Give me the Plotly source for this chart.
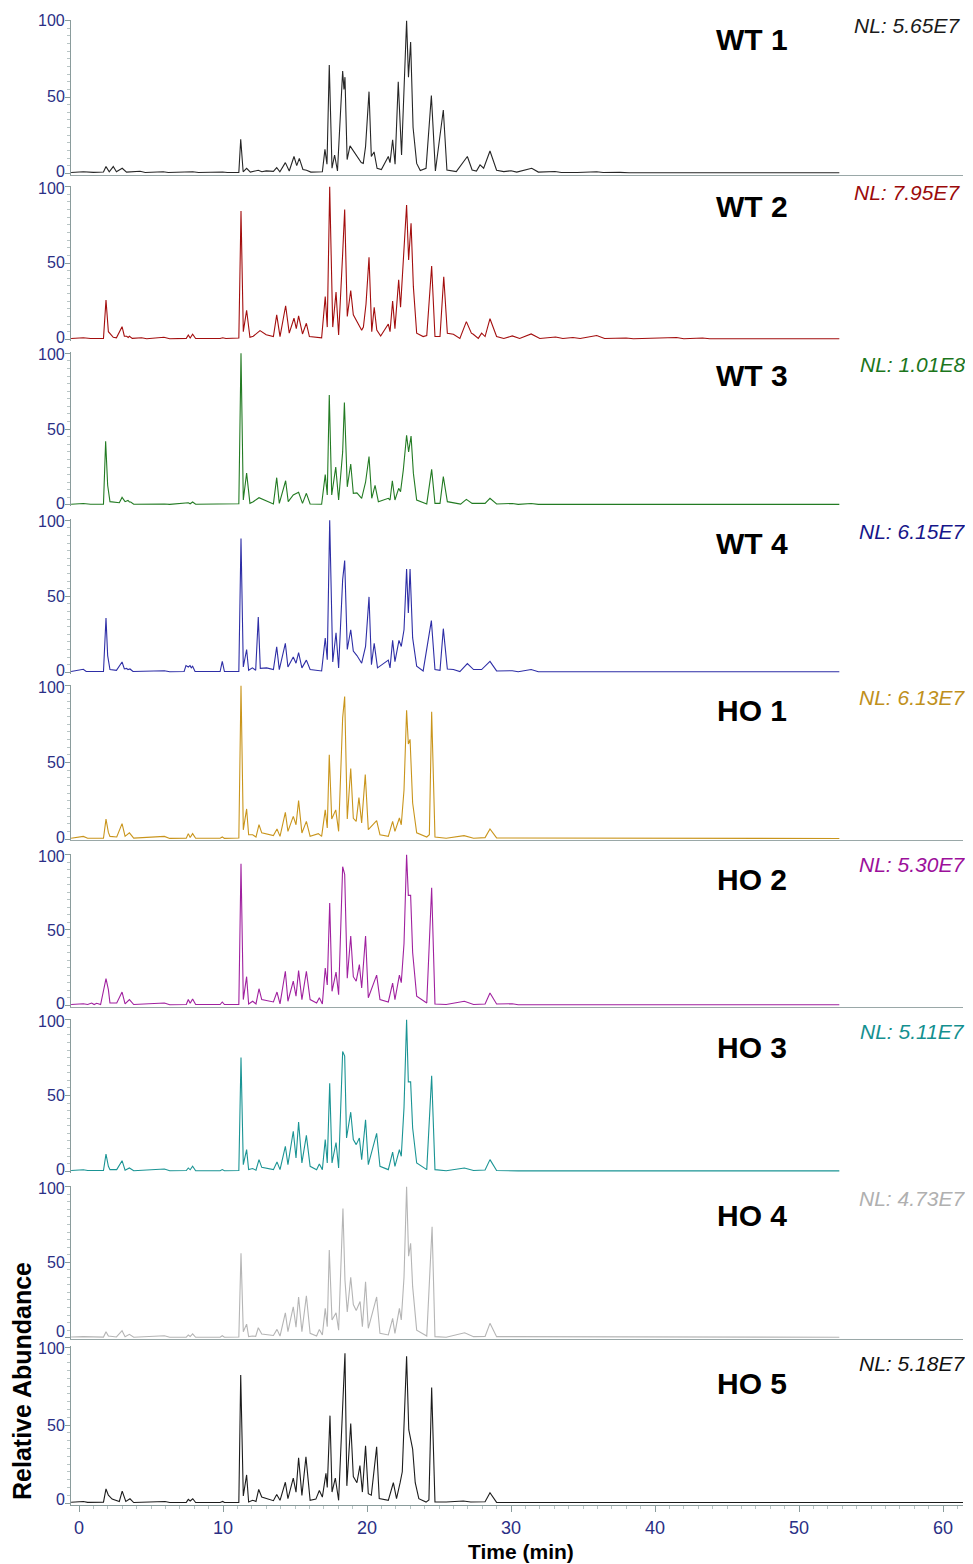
import plotly.graph_objects as go

# ---------------- data: (retention time [min], relative abundance [%]) ----------------
WT1 = [(-0.55,0.5),(0.3,1),(1.0,0.6),(1.7,0.8),(1.875,4.4),(2.1,1),(2.38,4.4),(2.6,1),(3.0,3.3),(3.3,0.8),
       (4.24,1.3),(4.6,0.5),(5.85,1),(6.2,0.5),(7.9,1),(8.3,0.5),(9.98,0.8),(10.3,0.5),(11.1,0.6),(11.23,22.3),
       (11.4,1),(11.64,3.3),(11.9,0.8),(12.45,2),(12.7,1),(13.0,1.6),(13.5,1.3),(13.73,3.7),(13.95,1),(14.33,7),
       (14.6,1.5),(14.93,11),(15.12,5),(15.3,9.8),(15.55,2.5),(15.8,2),(16.1,0.8),(16.9,1),(17.08,15.7),(17.22,6),
       (17.38,71),(17.57,3.3),(17.75,12),(17.95,1.5),(18.31,67),(18.4,55),(18.47,63),(18.62,9),(18.82,18),(19.2,13),
       (19.6,7),(19.74,6.5),(19.9,17.5),(20.14,53.5),(20.3,11),(20.49,14),(20.7,3.3),(21.0,2.5),(21.48,11),(21.6,7),
       (21.78,22),(21.95,6),(22.17,60),(22.4,12),(22.57,50),(22.75,100),(22.88,63),(23.03,86),(23.2,30),(23.45,6.5),
       (23.7,1.8),(24.1,3.3),(24.47,51),(24.75,1.5),(25.3,41.5),(25.55,2.2),(26.2,1.1),(26.97,11),(27.3,2.2),(27.6,1.5),
       (27.85,5.5),(28.1,3.3),(28.54,14.6),(29.0,2),(29.5,1.1),(30.0,1.7),(30.4,0.8),(31.44,3.3),(31.9,0.8),(33.05,1.2),
       (33.5,0.5),(34.2,0.8),(34.6,0.5),(35.95,1),(36.4,0.5),(37.57,0.6),(38.2,0.4),(52.8,0.4)]

WT2 = [(-0.55,0.5),(0.3,1),(0.8,0.5),(1.7,0.6),(1.875,25.8),(2.04,5),(2.38,1.3),(2.6,1),(2.99,8.3),(3.15,2),
       (3.31,2),(3.42,1.2),(3.5,2),(3.7,0.6),(4.35,1),(4.7,0.4),(5.9,1.3),(6.3,0.4),(7.45,0.6),(7.59,2.8),
       (7.72,0.8),(7.89,3.3),(8.1,0.5),(9.8,0.5),(9.98,1),(10.2,0.5),(11.1,0.8),(11.25,84),(11.41,5),(11.64,19),
       (11.87,1.3),(12.1,2),(12.57,5.7),(13.0,3),(13.5,1.8),(13.73,16),(13.96,1.8),(14.35,22),(14.6,4),(14.93,13.8),
       (15.09,7),(15.25,15.3),(15.52,3.5),(15.79,10.5),(16.0,1.8),(16.85,1),(17.1,28),(17.24,8),(17.41,100),(17.62,8),
       (17.85,31),(18.03,2.8),(18.31,56),(18.45,85),(18.63,15),(18.87,32),(19.05,16),(19.3,12),(19.63,6),(19.75,8),
       (19.93,23),(20.14,53.7),(20.33,5),(20.5,21),(20.68,6),(20.95,2.2),(21.48,10),(21.6,5),(21.78,25),(21.94,7),
       (22.2,39),(22.33,21),(22.52,50),(22.75,88),(22.89,52),(23.06,76),(23.22,34.5),(23.45,4),(23.9,1.8),(24.15,2.5),
       (24.49,48),(24.72,1.8),(25.07,1.8),(25.33,41),(25.58,4),(26.0,3.3),(26.45,0.6),(26.9,11.6),(27.25,4),(27.38,3.3),
       (27.73,0.6),(27.96,4),(28.2,1.8),(28.54,13.5),(29.0,1.8),(29.5,0.5),(30.09,2.2),(30.6,0.5),(31.4,3.5),(32.0,0.5),
       (33.1,1.5),(33.6,0.5),(34.3,1.2),(34.8,0.5),(35.95,2.5),(36.5,0.5),(38.0,0.8),(38.5,0.4),(41.5,1.2),(42.0,0.4),
       (43.3,0.8),(43.8,0.4),(52.8,0.4)]

WT3 = [(-0.55,0.5),(0.3,1),(0.8,0.5),(1.7,0.6),(1.85,42),(1.99,13),(2.15,2.2),(2.62,2),(2.8,1.5),(2.99,5),
       (3.2,2.2),(3.4,3),(3.5,2),(3.59,2),(3.8,0.5),(5.93,0.7),(6.3,0.4),(7.59,1.5),(7.72,0.8),(7.89,2),
       (8.1,0.5),(11.1,0.8),(11.25,100),(11.41,3.3),(11.64,21),(11.87,1.1),(12.1,2.2),(12.5,4.8),(13.0,2.5),(13.5,0.7),
       (13.73,18),(13.91,1.1),(14.35,16),(14.53,2.2),(14.88,6.6),(15.07,7.7),(15.25,8.4),(15.52,1.1),(15.79,7.7),(16.05,0.7),
       (16.85,0.5),(17.1,20),(17.24,6.6),(17.38,72.5),(17.55,6.6),(17.83,25),(18.03,3.3),(18.31,35),(18.43,67.5),(18.63,12),
       (18.87,27),(19.05,7.7),(19.3,8),(19.63,4.4),(19.9,15),(20.14,32),(20.33,4.4),(20.56,13),(20.79,2.2),(21.48,4.4),
       (21.6,3.3),(21.76,16),(21.94,3.3),(22.2,11),(22.33,8.8),(22.52,23),(22.75,46),(22.89,35),(23.06,45.5),(23.22,21),
       (23.45,3.3),(24.15,0.7),(24.49,23.5),(24.72,1.1),(25.07,1.1),(25.3,18.7),(25.58,2.2),(26.5,0.6),(26.9,3.7),(27.3,1.1),
       (28.2,1.1),(28.54,4.4),(29.0,0.7),(30.09,1),(30.5,0.4),(31.4,1),(31.9,0.4),(52.8,0.4)]

WT4 = [(-0.55,0.5),(0.3,2),(0.5,0.5),(1.7,0.5),(1.875,35.7),(1.99,11),(2.15,1.8),(2.6,1.3),(2.99,6.8),(3.15,2.2),
       (3.31,2.6),(3.4,1.8),(3.54,2.2),(3.75,0.5),(5.93,1),(6.3,0.4),(7.3,0.5),(7.43,4.4),(7.59,3.5),(7.71,4.4),
       (7.8,3),(7.89,4),(8.06,0.5),(9.8,0.5),(9.95,7.2),(10.1,0.5),(11.1,0.5),(11.25,88),(11.41,3.5),(11.64,15),
       (11.78,1.3),(12.04,2.9),(12.27,1.3),(12.45,36.4),(12.59,2.6),(13.03,2.9),(13.5,1.8),(13.73,16.7),(13.91,1.8),(14.33,19),
       (14.51,3.5),(14.88,10),(15.07,6),(15.25,13),(15.48,2.9),(15.79,8),(16.05,1.8),(16.85,0.9),(17.1,22.6),(17.24,8.3),
       (17.41,100),(17.62,6.8),(17.85,26),(18.03,2.9),(18.31,61),(18.45,73.5),(18.63,15),(18.87,28),(19.05,14),(19.3,11),
       (19.63,6),(19.9,17),(20.14,49.6),(20.31,5),(20.5,19),(20.73,2.9),(21.48,8),(21.6,2.9),(21.78,21),(21.94,7),
       (22.22,21),(22.38,17),(22.57,28),(22.75,68),(22.87,39),(22.99,68),(23.17,22.6),(23.45,4),(23.9,0.9),(24.47,34),
       (24.72,1.8),(25.07,1.3),(25.3,28.7),(25.58,2.2),(26.0,1.8),(26.45,0.5),(26.97,5.7),(27.4,1.8),(27.96,1.8),(28.54,7.2),
       (29.0,0.9),(30.09,1),(30.5,0.4),(31.4,1.8),(31.9,0.4),(52.8,0.4)]

HO1 = [(-0.55,0.5),(0.3,1.7),(0.6,0.5),(1.7,0.5),(1.875,13),(2.04,4.3),(2.15,1.7),(2.62,1.3),(2.99,10),(3.2,1.7),
       (3.5,4),(3.8,0.6),(5.93,1.7),(6.3,0.4),(7.45,0.5),(7.59,3.5),(7.72,1),(7.89,3.5),(8.1,0.5),(9.8,0.5),
       (9.95,1.3),(10.1,0.4),(11.1,0.6),(11.25,100),(11.41,6),(11.64,19.6),(11.78,2.8),(12.06,2.8),(12.29,1.3),(12.5,9.3),
       (12.69,4),(13.5,2.2),(13.75,6.5),(13.96,1.7),(14.33,17.4),(14.51,5),(14.88,14.8),(15.07,9.3),(15.25,25),(15.48,3.9),
       (15.79,11.5),(16.05,1.7),(16.62,3.5),(16.85,1.7),(17.1,19),(17.24,7.2),(17.38,55),(17.55,13),(17.83,19),(18.03,5),
       (18.31,79),(18.45,93),(18.63,13),(18.87,46),(19.05,13.5),(19.25,11.5),(19.44,27),(19.63,10.5),(19.88,42),(20.09,6.1),
       (20.67,12),(20.9,2.8),(21.48,1.7),(21.78,11.5),(21.94,5),(22.25,13.7),(22.38,9.3),(22.57,32),(22.75,84),(22.87,62),
       (22.99,65),(23.17,23.5),(23.45,4),(24.15,1.3),(24.33,2.8),(24.49,83),(24.72,1.3),(25.5,0.5),(26.74,2.2),(27.4,0.5),
       (28.2,0.9),(28.54,6.5),(29.0,0.7),(30.09,0.7),(30.5,0.3),(52.8,0.3)]

HO2 = [(-0.55,0.5),(0.3,1),(0.6,0.5),(0.88,1.5),(1.05,0.5),(1.23,1.3),(1.5,0.5),(1.875,17.7),(2.04,10.4),(2.15,1.5),
       (2.62,1.5),(2.99,8.8),(3.2,0.9),(3.5,3.8),(3.8,0.5),(5.93,1.5),(6.3,0.4),(7.45,0.5),(7.59,3.8),(7.72,1.3),
       (7.89,4.2),(8.1,0.5),(9.8,0.5),(9.95,2.2),(10.1,0.5),(11.1,0.5),(11.25,94),(11.41,3.8),(11.64,19),(11.78,0.9),
       (12.06,2.7),(12.29,0.9),(12.5,11),(12.69,3.8),(13.5,2.2),(13.75,8.8),(13.96,0.9),(14.33,22.6),(14.51,2.7),(14.88,16),
       (15.07,6),(15.25,23),(15.48,3.8),(15.79,22.6),(16.05,3.8),(16.5,1.5),(16.69,5),(16.9,0.9),(17.1,24.8),(17.24,13.5),
       (17.41,68),(17.57,9.3),(17.85,22),(18.03,7),(18.31,92),(18.45,87),(18.63,18),(18.87,46),(19.05,19),(19.25,16),
       (19.47,27),(19.63,11.5),(19.9,46),(20.09,5),(20.67,20),(20.9,3.8),(21.48,2.2),(21.78,14.8),(21.94,3.8),(22.25,20),
       (22.38,15),(22.57,41),(22.75,100),(22.87,73),(23.03,73),(23.17,35),(23.45,6),(24.15,1.5),(24.49,78),(24.72,0.9),
       (25.5,0.5),(26.76,2.7),(27.4,0.5),(28.2,0.9),(28.54,8.2),(29.0,0.9),(30.09,1),(30.5,0.4),(52.8,0.4)]

HO3 = [(-0.55,0.5),(0.3,1),(0.6,0.5),(1.7,0.5),(1.875,11.4),(2.04,3.3),(2.15,1.1),(2.62,1.1),(2.99,7),(3.2,0.7),
       (3.5,2.2),(3.8,0.4),(5.93,1.5),(6.3,0.4),(7.45,0.5),(7.59,2.2),(7.72,1),(7.89,3.3),(8.1,0.4),(9.8,0.4),
       (9.95,1.1),(10.1,0.4),(11.1,0.5),(11.25,75),(11.41,4.4),(11.64,14.3),(11.78,1.1),(12.06,1.8),(12.29,0.7),(12.5,7.7),
       (12.69,2.6),(13.5,1.1),(13.75,6.2),(13.96,1.1),(14.33,16.5),(14.51,4.4),(14.88,26.4),(15.07,8.8),(15.25,32.5),(15.48,5.5),
       (15.79,23.7),(16.05,3.3),(16.5,1.1),(16.69,4.8),(16.9,1.1),(17.1,21),(17.24,5.5),(17.41,58),(17.57,5.5),(17.85,19),
       (18.03,2.2),(18.31,79),(18.45,76),(18.58,22),(18.87,39),(19.05,21),(19.25,17.6),(19.47,22),(19.63,7.7),(19.9,34),
       (20.09,4.4),(20.67,25),(20.9,3.3),(21.48,1.1),(21.78,12.7),(21.94,3.3),(22.25,14.3),(22.38,9.9),(22.57,42),(22.75,100),
       (22.87,59),(23.03,59),(23.17,28.6),(23.45,5.5),(24.15,1.1),(24.49,63),(24.72,1.1),(25.5,0.4),(26.76,2.2),(27.4,0.5),
       (28.2,0.9),(28.54,7.7),(29.0,0.5),(30.09,0.7),(30.5,0.3),(52.8,0.3)]

HO4 = [(-0.55,0.5),(0.3,0.7),(1.7,0.4),(1.875,4),(2.04,1.1),(2.6,0.5),(2.99,4.6),(3.2,0.7),(3.5,2.2),(3.8,0.3),
       (5.93,1.3),(6.3,0.3),(7.45,0.4),(7.59,1.8),(7.72,0.8),(7.89,2.6),(8.1,0.3),(9.8,0.3),(9.95,1.3),(10.1,0.3),
       (11.1,0.5),(11.25,56),(11.41,4),(11.64,9),(11.78,0.7),(12.06,1.1),(12.27,0.9),(12.45,6.6),(12.69,2.4),(13.5,1.5),
       (13.75,5.5),(13.96,1.1),(14.33,16.5),(14.51,4),(14.88,20.5),(15.07,7),(15.25,27),(15.48,4),(15.79,27.8),(16.05,2.9),
       (16.5,1.1),(16.69,5.5),(16.9,1.8),(17.1,19.4),(17.24,7.3),(17.38,58),(17.57,11.7),(17.85,16.5),(18.03,5),(18.33,85.6),
       (18.47,38),(18.63,17),(18.87,40),(19.05,22),(19.25,18),(19.52,24),(19.68,7.3),(19.9,37),(20.09,6.2),(20.67,27),
       (20.9,2.9),(21.48,1.8),(21.78,12.8),(21.94,2.9),(22.25,19.4),(22.38,11.7),(22.57,40),(22.75,100),(22.89,54),(23.03,62.5),
       (23.17,33.8),(23.45,5),(24.15,1.1),(24.52,73.5),(24.72,0.7),(25.5,0.3),(26.78,3.3),(27.4,0.7),(28.2,0.9),(28.54,9.5),
       (29.0,0.7),(30.09,0.7),(30.5,0.3),(52.8,0.3)]

HO5 = [(-0.55,0.5),(0.3,1),(0.6,0.4),(1.23,0.6),(1.7,0.5),(1.875,9),(2.04,5),(2.3,2.5),(2.66,1.7),(2.8,1),
       (3.0,7.6),(3.25,1),(3.54,2.7),(3.8,0.3),(5.97,1),(6.3,0.3),(7.45,0.4),(7.59,2.3),(7.72,1.3),(7.9,2.7),
       (8.1,0.3),(9.8,0.3),(9.98,1),(10.1,0.3),(11.1,0.4),(11.23,82),(11.41,4.5),(11.64,18),(11.78,0.6),(12.06,1.7),
       (12.29,1),(12.48,8.7),(12.69,3.8),(13.5,1.5),(13.73,5.5),(13.96,1.7),(14.33,13.3),(14.51,2.8),(14.88,16),(15.07,7),
       (15.25,29),(15.48,4.8),(15.76,29.6),(16.05,1.7),(16.45,2.5),(16.69,8),(16.9,3.8),(17.15,19),(17.24,10),(17.43,56),
       (17.57,7),(17.8,16),(18.03,1.7),(18.31,68),(18.47,96),(18.6,11),(18.87,51),(19.05,17),(19.3,13),(19.51,24),
       (19.68,7),(19.9,36.6),(20.09,6),(20.3,5),(20.67,36),(20.85,2.8),(21.48,1.7),(21.83,13),(22.05,2.8),(22.3,13),
       (22.45,20),(22.75,94),(22.9,47),(23.17,34.5),(23.35,13),(23.6,2.8),(24.1,0.6),(24.3,2),(24.49,74),(24.72,0.6),
       (25.5,0.6),(26.69,1.3),(27.2,0.6),(28.2,0.8),(28.54,6.6),(29.0,0.4),(30.05,0.6),(30.5,0.3),(61.4,0.3)]

SAMPLE_NAMES = ["WT 1", "WT 2", "WT 3", "WT 4", "HO 1", "HO 2", "HO 3", "HO 4", "HO 5"]
SAMPLE_DATA = [WT1, WT2, WT3, WT4, HO1, HO2, HO3, HO4, HO5]
NL_LABELS = ["NL: 5.65E7", "NL: 7.95E7", "NL: 1.01E8", "NL: 6.15E7", "NL: 6.13E7",
             "NL: 5.30E7", "NL: 5.11E7", "NL: 4.73E7", "NL: 5.18E7"]
X_TICKS = [0, 10, 20, 30, 40, 50, 60]
Y_TICKS = [0, 50, 100]

# ---------------- styling / layout ----------------
PAGE_W, PAGE_H = 973, 1564
OFF = 8                     # default page margin of the html body
W, H = PAGE_W - OFF, PAGE_H - OFF
FONT = "Liberation Sans, Arial, Helvetica, sans-serif"
TRACE_COLORS = ["#262626", "#a30e0e", "#237b23", "#2e2ea6", "#c9951c",
                "#a0219f", "#1a9494", "#b5b5b5", "#1c1c1c"]
NL_COLORS = ["#1a1a1a", "#9b0a0a", "#1c761c", "#16168a", "#c0901c",
             "#9c109b", "#149090", "#b0b0b0", "#111111"]
NL_RIGHT = [962, 962, 967, 967, 967, 967, 967, 967, 967]
# page-pixel rows of value 100 and value 0 in each panel
PANEL_PX = [(20.7, 173.3), (186.7, 339.3), (353.3, 505.0), (520.3, 672.3), (685.7, 839.0),
            (854.7, 1005.3), (1019.7, 1171.3), (1186.7, 1337.7), (1347.0, 1503.0)]
# small vertical nudges (px) of the "100" / "0" tick labels, as in the instrument print-out
LABEL100_SHIFT = [0, 1.5, 1.5, 1.5, 1.5, 1.5, 1.5, 1.5, 1.5]
LABEL0_SHIFT = [-1.5, -1.5, -1.5, -1.5, -1.5, -1.5, -1.5, -6.0, -4.0]
FULL_AXIS_LINE = [True, False, False, False, True, True, False, True, True]
NAME_Y = [39, 207, 375, 543, 711, 879, 1047, 1215, 1383]
NL_Y = [26, 192, 364, 531, 697, 864, 1031, 1198, 1363]
X_LEFT_PX, X_RIGHT_PX = 71, 963
X_RANGE = [(71 - 79) / 14.4, (963 - 79) / 14.4]
AXIS_GRAY = "#8a9c9c"
NAVY = "#2b2f86"


def fx(px):
    return (px - OFF) / W


def fy(py):
    return 1 - (py - OFF) / H


fig = go.Figure()
layout = {}
annotations = []
n = len(SAMPLE_DATA)
for i in range(n):
    sfx = "" if i == 0 else str(i + 1)
    pts = SAMPLE_DATA[i]
    fig.add_trace(go.Scatter(
        x=[p[0] for p in pts], y=[p[1] for p in pts], mode="lines",
        line=dict(color=TRACE_COLORS[i], width=1.1),
        xaxis="x" + sfx, yaxis="y" + sfx, showlegend=False, hoverinfo="skip"))
    y100, y0 = PANEL_PX[i]
    k = (y0 - y100) / 100.0
    lo, hi = -0.9, 100.6
    if i == n - 1:
        lo = -1.3
    bot = y0 - lo * k
    top = y100 - (hi - 100) * k
    layout["yaxis" + sfx] = dict(
        domain=[fy(bot), fy(top)], range=[lo, hi], anchor="x" + sfx,
        tickvals=Y_TICKS, showticklabels=False,
        ticks="outside", ticklen=5, tickcolor=AXIS_GRAY, tickwidth=1,
        minor=dict(dtick=5, tick0=0, ticks="outside", ticklen=3, tickcolor="#b8c4c4"),
        showline=True, linecolor=AXIS_GRAY, linewidth=1,
        showgrid=False, zeroline=False, automargin=False)
    # y tick labels (placed per label so that stacked panels do not collide)
    for v in Y_TICKS:
        py = y0 - v * k
        if v == 100:
            py += LABEL100_SHIFT[i]
        elif v == 0:
            py += LABEL0_SHIFT[i]
        annotations.append(dict(
            text=str(v), x=fx(67), y=fy(py), xref="paper", yref="paper",
            xanchor="right", yanchor="middle", showarrow=False,
            font=dict(family=FONT, size=16, color=NAVY)))
    last = (i == n - 1)
    layout["xaxis" + sfx] = dict(
        domain=[fx(X_LEFT_PX), fx(X_RIGHT_PX)], range=X_RANGE, anchor="y" + sfx,
        showticklabels=last, tickvals=X_TICKS if last else [],
        ticks="outside" if last else "", ticklen=6, tickcolor=AXIS_GRAY,
        minor=dict(dtick=1, tick0=0, ticks="outside", ticklen=3, tickcolor="#b8c4c4") if last else None,
        showline=FULL_AXIS_LINE[i], linecolor="#9aa8a8" if not last else AXIS_GRAY, linewidth=1,
        showgrid=False, zeroline=False, automargin=False,
        tickfont=dict(family=FONT, size=18, color=NAVY))
    annotations.append(dict(
        text="<b>%s</b>" % SAMPLE_NAMES[i], x=fx(752), y=fy(NAME_Y[i]),
        xref="paper", yref="paper", xanchor="center", yanchor="middle", showarrow=False,
        font=dict(family=FONT, size=30, color="#000000")))
    annotations.append(dict(
        text="<i>%s</i>" % NL_LABELS[i], x=fx(NL_RIGHT[i]), y=fy(NL_Y[i]),
        xref="paper", yref="paper", xanchor="right", yanchor="middle", showarrow=False,
        font=dict(family=FONT, size=21, color=NL_COLORS[i])))

annotations.append(dict(
    text="<b>Time (min)</b>", x=fx(521), y=fy(1551), xref="paper", yref="paper",
    xanchor="center", yanchor="middle", showarrow=False,
    font=dict(family=FONT, size=21, color="#000000")))
annotations.append(dict(
    text="<b>Relative Abundance</b>", x=fx(22), y=fy(1381), xref="paper", yref="paper",
    xanchor="center", yanchor="middle", showarrow=False, textangle=-90,
    font=dict(family=FONT, size=25, color="#000000")))

fig.update_layout(
    width=W, height=H, margin=dict(l=0, r=0, t=0, b=0, autoexpand=False),
    paper_bgcolor="white", plot_bgcolor="white",
    annotations=annotations, **layout)

fig.write_html("out.html")
